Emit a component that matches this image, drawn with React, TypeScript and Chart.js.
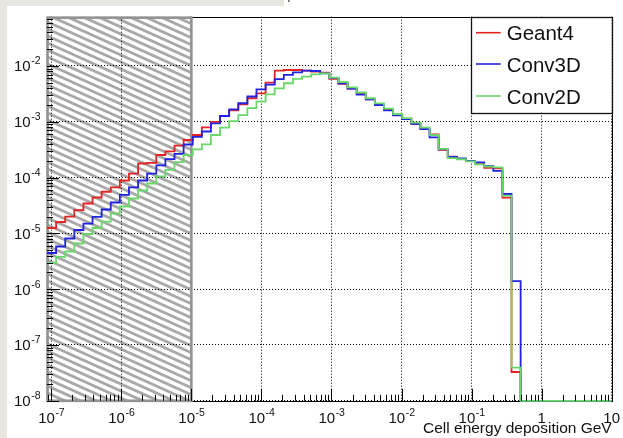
import React, { useEffect, useRef } from "react";
import { Chart, registerables } from "chart.js";

Chart.register(...registerables);

// ---------------- data ----------------
const SERIES_NAMES = ["Geant4", "Conv3D", "Conv2D"];

// histogram binning: 62 log-uniform bins from 10^-7.06 to 10^1 (0.13 decade each)
const BIN_LOG_START = -7.06;
const BIN_LOG_WIDTH = 0.13;

const geant4 = [
  1.25e-5, 1.6e-5, 1.99e-5, 2.62e-5, 3.43e-5, 4.4e-5, 5.58e-5, 6.65e-5, 8.87e-5, 1.18e-4,
  1.79e-4, 1.83e-4, 2.54e-4, 2.94e-4, 3.73e-4, 4.72e-4, 5.8e-4, 7.91e-4, 1.0e-3, 1.27e-3,
  1.61e-3, 2.06e-3, 2.64e-3, 3.24e-3, 5.02e-3, 8.24e-3, 8.48e-3, 8.48e-3, 8.24e-3, 7.9e-3,
  7.59e-3, 5.85e-3, 4.76e-3, 3.92e-3, 3.15e-3, 2.53e-3, 2.0e-3, 1.66e-3, 1.32e-3, 1.12e-3,
  9.14e-4, 7.43e-4, 5.97e-4, 3.13e-4, 2.37e-4, 2.15e-4, 1.98e-4, 1.83e-4, 1.49e-4, 1.46e-4,
  4.36e-5, 3.28e-8, 0, 0, 0, 0, 0, 0, 0, 0, 0, 0,
];

const conv3d = [
  4.45e-6, 5.82e-6, 8.1e-6, 1.15e-5, 1.5e-5, 1.97e-5, 2.68e-5, 3.58e-5, 4.88e-5, 6.65e-5,
  8.87e-5, 1.18e-4, 1.65e-4, 2.15e-4, 2.65e-4, 3.92e-4, 5.35e-4, 6.7e-4, 9.4e-4, 1.27e-3,
  1.67e-3, 2.15e-3, 2.84e-3, 3.82e-3, 4.62e-3, 5.8e-3, 6.9e-3, 7.71e-3, 8.24e-3, 8.13e-3,
  7.4e-3, 6.1e-3, 4.86e-3, 3.92e-3, 3.08e-3, 2.53e-3, 2.0e-3, 1.6e-3, 1.3e-3, 1.12e-3,
  9.14e-4, 7.43e-4, 5.24e-4, 3.19e-4, 2.34e-4, 2.2e-4, 2.0e-4, 1.87e-4, 1.6e-4, 1.32e-4,
  5.08e-5, 1.4e-6, 0, 0, 0, 0, 0, 0, 0, 0, 0, 0,
];

const conv2d = [
  2.95e-6, 3.78e-6, 4.74e-6, 6.59e-6, 9.75e-6, 1.25e-5, 1.63e-5, 2.27e-5, 3.03e-5, 4.22e-5,
  5.87e-5, 7.83e-5, 1.05e-4, 1.37e-4, 1.9e-4, 2.54e-4, 3.19e-4, 3.95e-4, 5.8e-4, 7.84e-4,
  1.03e-3, 1.32e-3, 1.75e-3, 2.29e-3, 3.11e-3, 3.98e-3, 4.9e-3, 5.85e-3, 6.43e-3, 7.1e-3,
  7.34e-3, 6.17e-3, 5.16e-3, 4.12e-3, 3.35e-3, 2.64e-3, 2.13e-3, 1.72e-3, 1.38e-3, 1.16e-3,
  9.64e-4, 7.84e-4, 5.8e-4, 3.26e-4, 2.24e-4, 2.13e-4, 1.96e-4, 1.72e-4, 1.57e-4, 1.53e-4,
  4.77e-5, 3.92e-8, 0, 0, 0, 0, 0, 0, 0, 0, 0, 0,
];

const X_MIN = Math.pow(10, BIN_LOG_START);
const X_MAX = 10;
const Y_MIN = 1e-8;
const Y_MAX = 0.0764;
const HATCH_MAX = 1e-5;

const X_TICK_VALUES = [1e-7, 1e-6, 1e-5, 1e-4, 1e-3, 1e-2, 1e-1, 1, 10];
const X_TICK_LABELS = [
  ["10", "-7"], ["10", "-6"], ["10", "-5"], ["10", "-4"], ["10", "-3"],
  ["10", "-2"], ["10", "-1"], ["1", ""], ["10", ""],
];
const Y_TICK_VALUES = [1e-8, 1e-7, 1e-6, 1e-5, 1e-4, 1e-3, 1e-2];
const Y_TICK_LABELS = [
  ["10", "-8"], ["10", "-7"], ["10", "-6"], ["10", "-5"], ["10", "-4"], ["10", "-3"], ["10", "-2"],
];
const X_TITLE = "Cell energy deposition GeV";

// ---------------- style ----------------
const COLORS = ["rgb(226,36,36)", "rgb(34,34,226)", "rgb(104,216,104)"];
const FONT = '"Liberation Sans", Arial, Helvetica, sans-serif';
const BEIGE = "#e8e6e1";
const TEXT = "#111";

function toPoints(vals: number[]) {
  const pts = vals.map((v, j) => ({
    x: Math.pow(10, BIN_LOG_START + BIN_LOG_WIDTH * j),
    y: v > 0 ? v : Y_MIN,
  }));
  pts.push({
    x: Math.pow(10, BIN_LOG_START + BIN_LOG_WIDTH * vals.length),
    y: pts[pts.length - 1].y,
  });
  return pts;
}

function drawPow(ctx: CanvasRenderingContext2D, base: string, exp: string, x: number, y: number, align: string) {
  const bf = `15px ${FONT}`;
  const ef = `10.5px ${FONT}`;
  ctx.font = bf;
  const bw = ctx.measureText(base).width;
  ctx.font = ef;
  const ew = exp ? ctx.measureText(exp).width : 0;
  const total = bw + ew;
  const x0 = align === "center" ? x - total / 2 : align === "right" ? x - total : x;
  ctx.textAlign = "left";
  ctx.textBaseline = "alphabetic";
  ctx.fillStyle = TEXT;
  ctx.font = bf;
  ctx.fillText(base, x0, y);
  if (exp) {
    ctx.font = ef;
    ctx.fillText(exp, x0 + bw + 0.5, y - 7);
  }
}

function minorValues(lo: number, hi: number) {
  const out: { v: number; major: boolean }[] = [];
  for (let d = -9; d <= 2; d++) {
    for (let m = 1; m <= 9; m++) {
      const v = m * Math.pow(10, d);
      if (v >= lo * 0.9999 && v <= hi * 1.0001) out.push({ v, major: m === 1 });
    }
  }
  return out;
}

const rootStyle = {
  id: "rootStyle",
  beforeDraw(chart: any) {
    const { ctx, chartArea: a, scales } = chart;
    const hx = scales.x.getPixelForValue(HATCH_MAX);
    ctx.save();
    ctx.beginPath();
    ctx.rect(a.left, a.top, hx - a.left, a.bottom - a.top);
    ctx.clip();
    ctx.strokeStyle = "rgb(168,168,168)";
    ctx.lineWidth = 2.9;
    const slope = 0.45;
    const period = 7;
    const w = hx - a.left;
    for (let y0 = a.top - slope * w - period; y0 < a.bottom + period; y0 += period) {
      ctx.beginPath();
      ctx.moveTo(a.left, y0);
      ctx.lineTo(hx, y0 + slope * w);
      ctx.stroke();
    }
    ctx.restore();
  },
  beforeDatasetsDraw(chart: any) {
    const { ctx, chartArea: a, scales } = chart;
    const hx = scales.x.getPixelForValue(HATCH_MAX);
    ctx.save();
    ctx.strokeStyle = "#000";
    ctx.lineWidth = 1;
    ctx.strokeRect(Math.round(a.left) + 0.5, Math.round(a.top) + 0.5,
      Math.round(a.right) - Math.round(a.left), Math.round(a.bottom) - Math.round(a.top));
    ctx.strokeStyle = "rgb(148,148,148)";
    ctx.lineWidth = 2.7;
    ctx.strokeRect(a.left + 0.5, a.top + 1, hx - a.left - 0.5, a.bottom - a.top - 1);
    ctx.restore();
  },
  afterDatasetsDraw(chart: any) {
    const { ctx, chartArea: a, scales } = chart;
    const xs = scales.x;
    const ys = scales.y;
    ctx.save();
    // ticks
    ctx.strokeStyle = "#000";
    ctx.lineWidth = 1;
    ctx.beginPath();
    for (const t of minorValues(X_MIN, X_MAX)) {
      const px = Math.round(xs.getPixelForValue(t.v)) + 0.5;
      const len = t.major ? 12 : 6;
      ctx.moveTo(px, a.bottom);
      ctx.lineTo(px, a.bottom - len);
    }
    for (const t of minorValues(Y_MIN, Y_MAX)) {
      const py = Math.round(ys.getPixelForValue(t.v)) + 0.5;
      const len = t.major ? 12 : 6;
      ctx.moveTo(a.left, py);
      ctx.lineTo(a.left + len, py);
    }
    ctx.stroke();
    // tick labels
    X_TICK_VALUES.forEach((v, i) => {
      const px = xs.getPixelForValue(v);
      drawPow(ctx, X_TICK_LABELS[i][0], X_TICK_LABELS[i][1], px, a.bottom + 22, "center");
    });
    Y_TICK_VALUES.forEach((v, i) => {
      const py = ys.getPixelForValue(v);
      drawPow(ctx, Y_TICK_LABELS[i][0], Y_TICK_LABELS[i][1], a.left - 7, py + 5.5, "right");
    });
    // axis title
    ctx.font = `15.5px ${FONT}`;
    ctx.fillStyle = TEXT;
    ctx.textAlign = "right";
    ctx.textBaseline = "alphabetic";
    ctx.fillText(X_TITLE, a.right, a.bottom + 32.5);
    // legend
    const lx = a.right - 141;
    const ly = a.top;
    const lh = 95.6;
    ctx.fillStyle = "#fff";
    ctx.fillRect(lx, ly, a.right - lx, lh);
    ctx.strokeStyle = "#111";
    ctx.lineWidth = 1.3;
    ctx.strokeRect(Math.round(lx) + 0.5, Math.round(ly) + 0.5, Math.round(a.right - lx), Math.round(lh));
    const rowY = [16, 47.3, 79.3];
    SERIES_NAMES.forEach((name, i) => {
      const yy = ly + rowY[i];
      ctx.strokeStyle = COLORS[i];
      ctx.lineWidth = 1.6;
      ctx.beginPath();
      ctx.moveTo(lx + 5.3, yy);
      ctx.lineTo(lx + 30, yy);
      ctx.stroke();
      ctx.fillStyle = TEXT;
      ctx.font = `20.5px ${FONT}`;
      ctx.textAlign = "left";
      ctx.textBaseline = "alphabetic";
      ctx.fillText(name, lx + 36, yy + 7.5);
    });
    ctx.restore();
  },
};

export default function App() {
  const ref = useRef<HTMLCanvasElement>(null);
  useEffect(() => {
    const series = [geant4, conv3d, conv2d];
    const chart = new Chart(ref.current as HTMLCanvasElement, {
      type: "line",
      data: {
        datasets: series.map((vals, i) => ({
          label: SERIES_NAMES[i],
          data: toPoints(vals),
          borderColor: COLORS[i],
          backgroundColor: COLORS[i],
          borderWidth: 1.8,
          pointRadius: 0,
          stepped: "before" as const,
          fill: false,
          tension: 0,
          order: 3 - i,
          clip: false as any,
        })),
      },
      options: {
        animation: false,
        responsive: false,
        devicePixelRatio: 1,
        layout: { padding: { left: 47, right: 11.3, top: 16.7, bottom: 37.2 } },
        plugins: { legend: { display: false }, tooltip: { enabled: false } },
        scales: {
          x: {
            type: "logarithmic",
            min: X_MIN,
            max: X_MAX,
            afterBuildTicks: (s: any) => {
              s.ticks = X_TICK_VALUES.map((v) => ({ value: v }));
            },
            afterFit: (s: any) => {
              s.height = 0;
            },
            ticks: { display: false },
            grid: { color: "#000", lineWidth: 1, drawTicks: false },
            border: { display: false, dash: [1, 2] },
          },
          y: {
            type: "logarithmic",
            min: Y_MIN,
            max: Y_MAX,
            afterBuildTicks: (s: any) => {
              s.ticks = Y_TICK_VALUES.map((v) => ({ value: v }));
            },
            afterFit: (s: any) => {
              s.width = 0;
            },
            ticks: { display: false },
            grid: { color: "#000", lineWidth: 1, drawTicks: false },
            border: { display: false, dash: [1, 2] },
          },
        },
      } as any,
      plugins: [rootStyle as any],
    });
    return () => chart.destroy();
  }, []);

  return (
    <div
      style={{
        position: "fixed",
        left: 0,
        top: 0,
        width: 623,
        height: 438,
        background: "#fff",
        overflow: "hidden",
      }}
    >
      <canvas
        ref={ref}
        width={623}
        height={438}
        style={{ position: "absolute", left: 0, top: 0, width: 623, height: 438 }}
      />
      <div style={{ position: "absolute", left: 0, top: 0, width: 7, height: 438, background: BEIGE }} />
      <div style={{ position: "absolute", left: 0, top: 0, width: 284, height: 6, background: BEIGE }} />
      <div
        style={{
          position: "absolute",
          left: 288,
          top: -10,
          font: `14px ${FONT}`,
          color: "#333",
          lineHeight: "14px",
        }}
      >
        /
      </div>
    </div>
  );
}
